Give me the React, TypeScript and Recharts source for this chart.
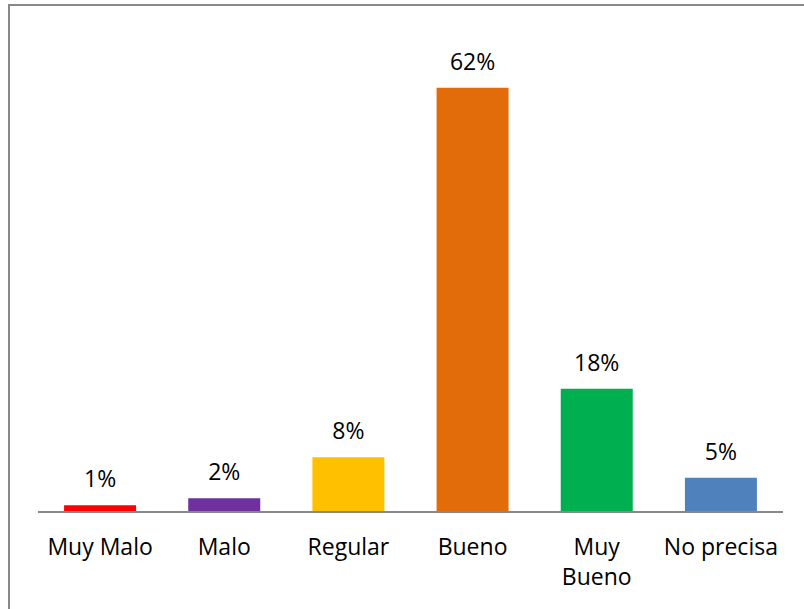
import React from "react";
import { BarChart, Bar, XAxis, YAxis, Cell, LabelList } from "recharts";

const categories = ["Muy Malo", "Malo", "Regular", "Bueno", "Muy Bueno", "No precisa"];
const values = [1, 2, 8, 62, 18, 5];
const colors = ["#FF0000", "#7030A0", "#FFC000", "#E36C0A", "#00B050", "#4F81BD"];
const tickLines: Record<string, string[]> = {
  "Muy Bueno": ["Muy", "Bueno"],
};

const data = categories.map((c, i) => ({ name: c, value: values[i] }));

const FONT = "'Open Sans', sans-serif";

const Tick = (props: any) => {
  const { x, y, payload } = props;
  const lines = tickLines[payload.value] || [payload.value];
  return (
    <g>
      {lines.map((l: string, i: number) => (
        <text
          key={i}
          x={x}
          y={y + 35 + i * 30}
          textAnchor="middle"
          fontFamily={FONT}
          fontSize={23}
          fill="#000"
        >
          {l}
        </text>
      ))}
    </g>
  );
};

export default function App() {
  return (
    <div style={{ position: "absolute", left: 0, top: 0, width: 804, height: 609, overflow: "hidden", background: "#fff" }}>
      <div
        style={{
          position: "absolute",
          left: 8,
          top: 4,
          width: 900,
          height: 700,
          borderLeft: "2px solid #888",
          borderTop: "2px solid #888",
        }}
      />
      <div style={{ position: "absolute", left: 0, top: 0 }}>
        <BarChart
          width={804}
          height={609}
          data={data}
          margin={{ top: 33, right: 21, bottom: 0, left: 38 }}
          barCategoryGap="21%"
        >
          <XAxis
            dataKey="name"
            axisLine={{ stroke: "#888", strokeWidth: 2 }}
            tickLine={false}
            tick={<Tick />}
            interval={0}
            height={97}
          />
          <YAxis hide domain={[0, 70]} />
          <Bar dataKey="value" isAnimationActive={false}>
            {data.map((d, i) => (
              <Cell key={i} fill={colors[i]} />
            ))}
            <LabelList
              dataKey="value"
              position="top"
              offset={18}
              formatter={(v: any) => `${v}%`}
              style={{ fontFamily: FONT, fontSize: 23, fill: "#000" }}
            />
          </Bar>
        </BarChart>
      </div>
    </div>
  );
}
